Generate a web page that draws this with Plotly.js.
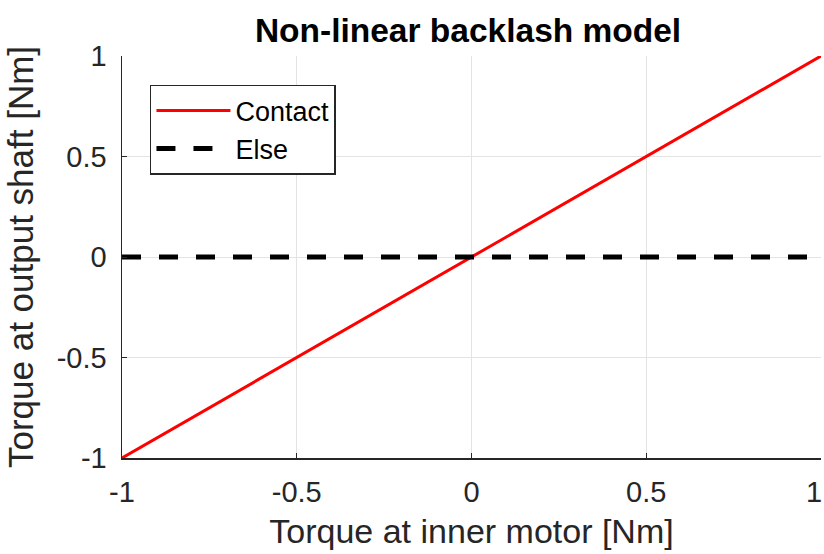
<!DOCTYPE html>
<html>
<head>
<meta charset="utf-8">
<script src="https://cdn.plot.ly/plotly-3.0.1.min.js"></script>
<style>html,body{margin:0;padding:0;background:#fff;}#chart{width:824px;height:554px;}</style>
</head>
<body>
<div id="chart"></div>
<script>
const contactX = [-1, 1];
const contactY = [-1, 1];
const elseX = [-1, 1];
const elseY = [0, 0];
const tickVals = [-1, -0.5, 0, 0.5, 1];
const tickText = ['-1', '-0.5', '0', '0.5', '1'];

const FONT = 'Liberation Sans, Arial, Helvetica, sans-serif';

const traces = [
  {x: contactX, y: contactY, mode: 'lines', name: 'Contact',
   line: {color: '#ff0000', width: 3}},
  {x: elseX, y: elseY, mode: 'lines', name: 'Else',
   line: {color: '#000000', width: 5, dash: '19px,18px'}}
];

const axisCommon = {
  range: [-1, 1],
  ticks: 'inside', ticklen: 5, tickwidth: 1, tickcolor: '#262626',
  showline: true, linecolor: '#262626', linewidth: 1.5,
  showgrid: true, gridcolor: '#e3e3e3', gridwidth: 1,
  zeroline: false, automargin: false,
  tickfont: {family: FONT, size: 29, color: '#262626'}
};

// last x label (at the right edge) is drawn right-aligned as an annotation so it stays on the page
const lastIdx = tickVals.length - 1;
const xMainText = tickText.map((t, i) => i === lastIdx ? '' : t);

const layout = {
  width: 824, height: 554,
  paper_bgcolor: '#ffffff', plot_bgcolor: '#ffffff',
  margin: {l: 122, r: 3, t: 56, b: 96, pad: 0},
  title: {text: '<b>Non-linear backlash model</b>', font: {family: FONT, size: 33.5, color: '#000000'},
          x: 0.568, xanchor: 'center', y: 0.945, yanchor: 'middle'},
  xaxis: Object.assign({}, axisCommon, {
    tickvals: tickVals, ticktext: xMainText,
    title: {text: 'Torque at inner motor [Nm]', font: {family: FONT, size: 34, color: '#262626'}, standoff: 12},
    ticklabelstandoff: 8
  }),
  yaxis: Object.assign({}, axisCommon, {
    tickvals: tickVals, ticktext: tickText,
    title: {text: 'Torque at output shaft [Nm]', font: {family: FONT, size: 35, color: '#262626'}, standoff: 12},
    ticklabelstandoff: 8
  }),
  annotations: [{
    x: tickVals[lastIdx], xref: 'x', y: 0, yref: 'paper',
    text: tickText[lastIdx], showarrow: false,
    xanchor: 'right', yanchor: 'middle', xshift: 2, yshift: -34,
    borderpad: 0,
    font: {family: FONT, size: 29, color: '#262626'}
  }],
  showlegend: true,
  legend: {
    x: 0.04, y: 0.928, xanchor: 'left', yanchor: 'top',
    bgcolor: '#ffffff', bordercolor: '#262626', borderwidth: 1.5,
    font: {family: FONT, size: 27, color: '#000000'},
    itemwidth: 74
  }
};

Plotly.newPlot('chart', traces, layout, {staticPlot: true, displayModeBar: false});
</script>
</body>
</html>
